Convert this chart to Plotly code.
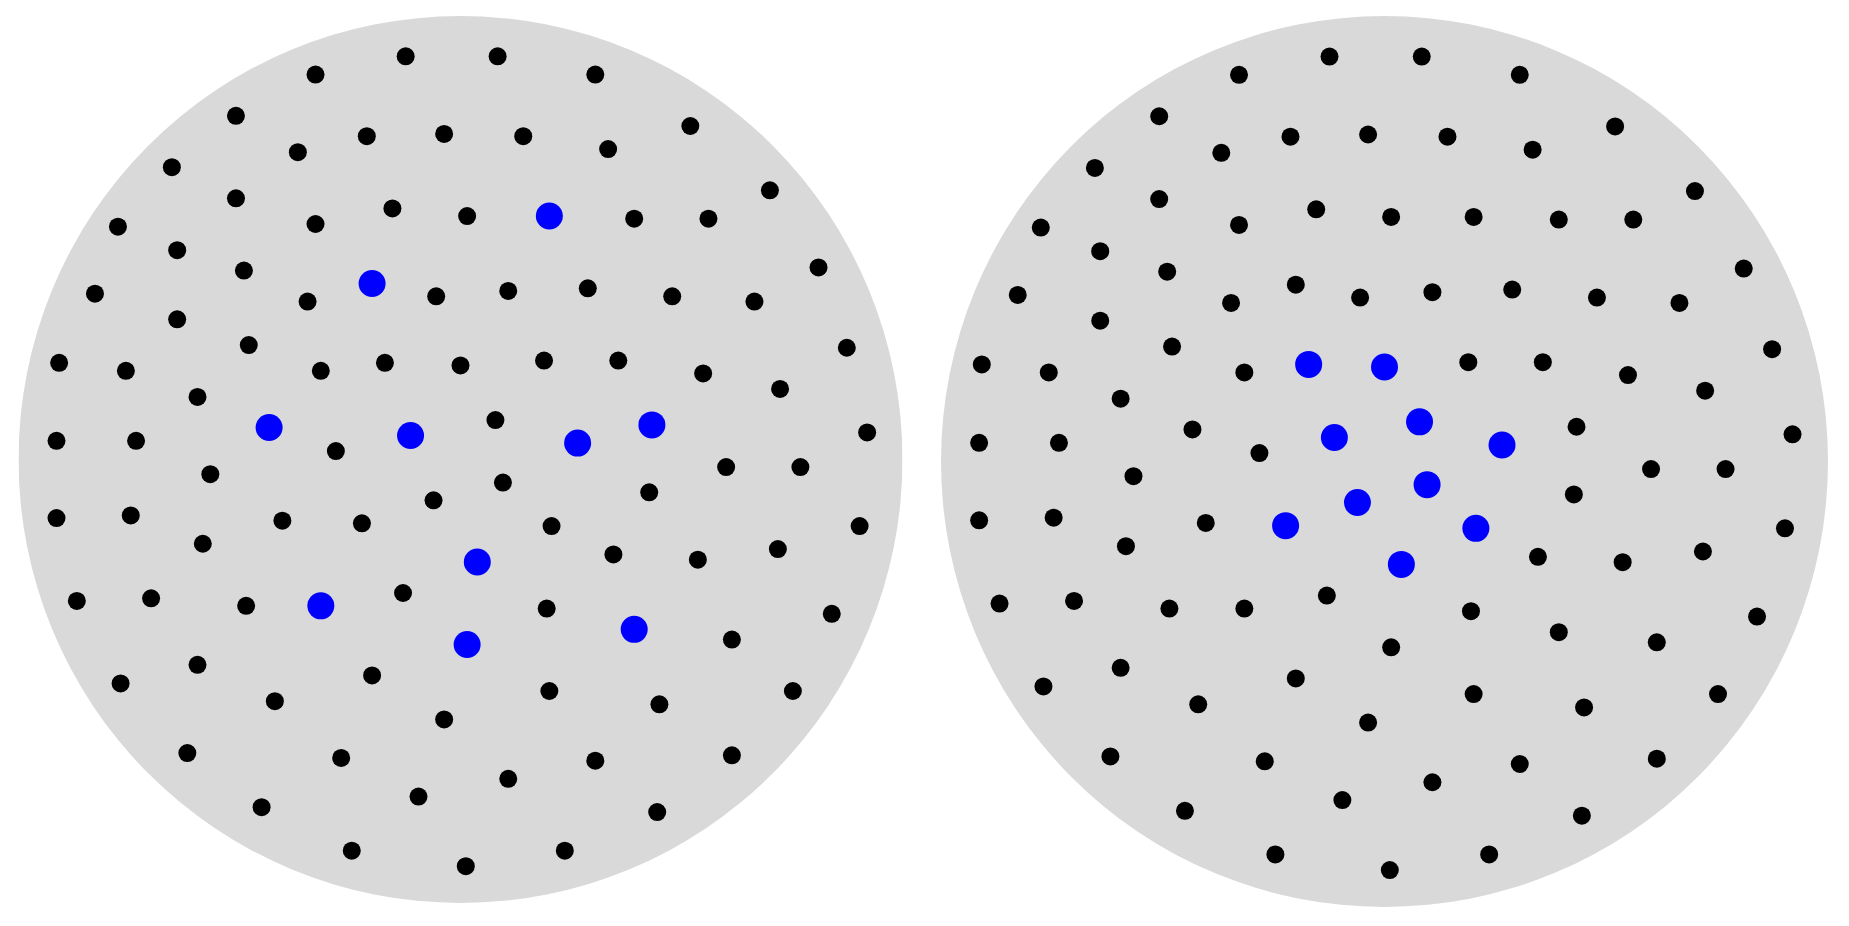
import plotly.graph_objects as go

# Same 100 points in a unit disk, shown twice with a different highlighted group
point_x = [
    -0.124, -0.328, -0.508, -0.212, -0.037, -0.368, -0.653, -0.508, -0.154, -0.328,
    -0.775, -0.641, -0.490, -0.200, -0.055, -0.827, -0.346, -0.641, -0.479, -0.908,
    -0.757, -0.316, -0.171, 0.000, -0.595, -0.433, -0.113, -0.914, -0.734, -0.282,
    0.084, 0.305, 0.520, 0.142, 0.334, 0.700, 0.015, 0.201, 0.393, 0.561,
    0.810, 0.108, 0.288, 0.479, 0.665, 0.874, 0.189, 0.357, 0.549, 0.723,
    0.079, 0.265, 0.433, 0.920, -0.566, -0.914, -0.746, -0.403, -0.223, -0.061,
    -0.583, 0.038, -0.868, -0.700, -0.485, -0.316, -0.130, 0.015, -0.595, -0.769,
    -0.200, -0.420, -0.037, -0.618, -0.270, -0.095, -0.450, -0.246, 0.012, 0.601,
    0.769, 0.096, 0.427, 0.903, 0.206, 0.346, 0.537, 0.718, 0.195, 0.393,
    0.614, 0.840, 0.201, 0.450, 0.752, 0.305, 0.108, 0.614, 0.445, 0.236,
]
point_y = [
    0.909, 0.868, 0.775, 0.729, 0.734, 0.693, 0.659, 0.589, 0.566, 0.531,
    0.525, 0.472, 0.426, 0.397, 0.368, 0.374, 0.356, 0.316, 0.258, 0.218,
    0.200, 0.200, 0.218, 0.212, 0.141, 0.072, 0.054, 0.042, 0.042, 0.019,
    0.909, 0.868, 0.752, 0.729, 0.700, 0.607, 0.549, 0.549, 0.543, 0.543,
    0.433, 0.380, 0.386, 0.368, 0.356, 0.252, 0.223, 0.223, 0.194, 0.159,
    0.089, 0.037, 0.078, 0.061, -0.033, -0.132, -0.126, -0.138, -0.144, -0.092,
    -0.190, -0.231, -0.319, -0.313, -0.330, -0.330, -0.301, -0.417, -0.463, -0.505,
    -0.487, -0.545, -0.586, -0.662, -0.673, -0.760, -0.784, -0.882, -0.917, -0.017,
    -0.017, -0.052, -0.074, -0.150, -0.150, -0.214, -0.226, -0.202, -0.336, -0.383,
    -0.406, -0.348, -0.522, -0.552, -0.522, -0.679, -0.720, -0.667, -0.795, -0.882,
]

# indices of the blue points in each panel
left_highlight = [13, 25, 26, 37, 51, 52, 61, 65, 67, 89]
right_highlight = [22, 23, 26, 50, 51, 58, 59, 61, 81, 84]

DISK_COLOR = "#d9d9d9"
W, H = 1849, 926
OFF = 8  # the page body adds an 8px margin


def add_panel(fig, highlight, xref, yref):
    black = [i for i in range(len(point_x)) if i not in highlight]
    fig.add_trace(go.Scatter(
        x=[point_x[i] for i in black], y=[point_y[i] for i in black],
        mode="markers", marker=dict(color="black", size=18, line=dict(width=0)),
        xaxis=xref, yaxis=yref, hoverinfo="skip",
    ))
    fig.add_trace(go.Scatter(
        x=[point_x[i] for i in highlight], y=[point_y[i] for i in highlight],
        mode="markers", marker=dict(color="#0000ff", size=27, line=dict(width=0)),
        xaxis=xref, yaxis=yref, hoverinfo="skip",
    ))
    fig.add_shape(type="circle", xref=xref, yref=yref, x0=-1, x1=1, y0=-1, y1=1,
                  fillcolor=DISK_COLOR, line=dict(width=0), layer="below")


fig = go.Figure()
add_panel(fig, left_highlight, "x", "y")
add_panel(fig, right_highlight, "x2", "y2")

axis_style = dict(range=[-1, 1], visible=False, showgrid=False, zeroline=False, fixedrange=True)
fig.update_layout(
    width=W, height=H,
    margin=dict(l=0, r=0, t=0, b=0),
    paper_bgcolor="white", plot_bgcolor="rgba(0,0,0,0)",
    showlegend=False,
    xaxis=dict(domain=[(18.5 - OFF) / W, (902.5 - OFF) / W], **axis_style),
    yaxis=dict(domain=[1 - (903 - OFF) / H, 1 - (16 - OFF) / H], **axis_style),
    xaxis2=dict(domain=[(941 - OFF) / W, (1828 - OFF) / W], **axis_style),
    yaxis2=dict(domain=[1 - (907 - OFF) / H, 1 - (16 - OFF) / H], **axis_style),
)

fig.write_html("out.html")
